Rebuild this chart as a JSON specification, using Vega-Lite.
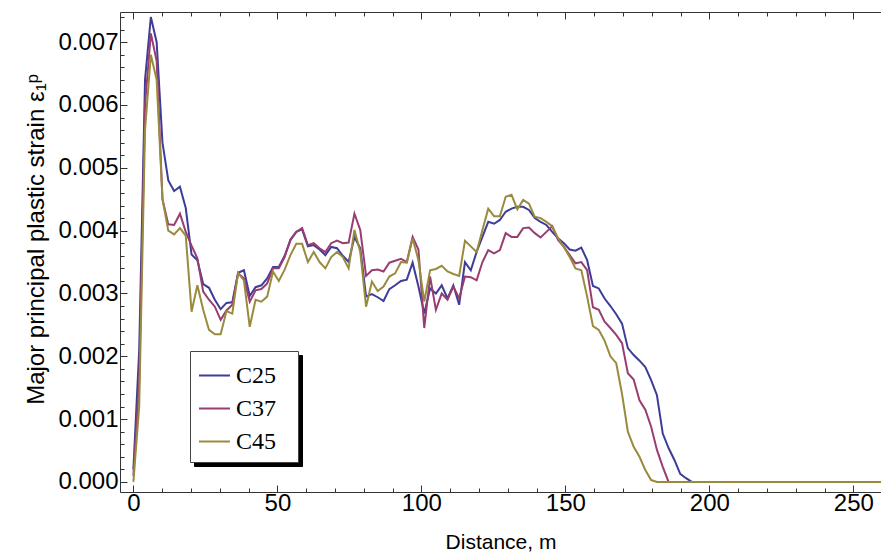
{
  "$schema": "https://vega.github.io/schema/vega-lite/v6.json",
  "width": 761,
  "height": 480,
  "autosize": {"type": "none"},
  "padding": {"left": 120, "top": 12, "right": 0, "bottom": 67},
  "background": "white",
  "config": {"view": {"stroke": null}, "font": "Liberation Sans"},
  "data": {"values": [
    {"x":0,"C25":0.0002,"C37":0.0001,"C45":0},
    {"x":2.02,"C25":0.0021,"C37":0.0016,"C45":0.0012},
    {"x":4.04,"C25":0.0064,"C37":0.006,"C45":0.0056},
    {"x":6.06,"C25":0.0074,"C37":0.00714,"C45":0.0068},
    {"x":8.08,"C25":0.007,"C37":0.0067,"C45":0.0064},
    {"x":10.1,"C25":0.0054,"C37":0.0045,"C45":0.0045},
    {"x":12.12,"C25":0.0048,"C37":0.0041,"C45":0.004},
    {"x":14.14,"C25":0.00463,"C37":0.00409,"C45":0.00394},
    {"x":16.16,"C25":0.0047,"C37":0.00427,"C45":0.00404},
    {"x":18.18,"C25":0.00436,"C37":0.00398,"C45":0.00392},
    {"x":20.2,"C25":0.00362,"C37":0.00376,"C45":0.00271},
    {"x":22.22,"C25":0.00353,"C37":0.00356,"C45":0.00313},
    {"x":24.24,"C25":0.00315,"C37":0.00303,"C45":0.00274},
    {"x":26.26,"C25":0.00309,"C37":0.0029,"C45":0.00242},
    {"x":28.28,"C25":0.0029,"C37":0.00279,"C45":0.00235},
    {"x":30.3,"C25":0.00275,"C37":0.00258,"C45":0.00235},
    {"x":32.32,"C25":0.00285,"C37":0.00273,"C45":0.00272},
    {"x":34.34,"C25":0.00286,"C37":0.00282,"C45":0.00268},
    {"x":36.36,"C25":0.00333,"C37":0.00332,"C45":0.00333},
    {"x":38.38,"C25":0.00337,"C37":0.00324,"C45":0.00321},
    {"x":40.4,"C25":0.00296,"C37":0.00287,"C45":0.00247},
    {"x":42.42,"C25":0.0031,"C37":0.00305,"C45":0.0029},
    {"x":44.44,"C25":0.00313,"C37":0.00307,"C45":0.00287},
    {"x":46.46,"C25":0.00324,"C37":0.00316,"C45":0.00295},
    {"x":48.48,"C25":0.00342,"C37":0.0034,"C45":0.00335},
    {"x":50.5,"C25":0.00342,"C37":0.0034,"C45":0.0032},
    {"x":52.52,"C25":0.0036,"C37":0.00358,"C45":0.00338},
    {"x":54.54,"C25":0.00385,"C37":0.00386,"C45":0.00361},
    {"x":56.56,"C25":0.00398,"C37":0.00398,"C45":0.00379},
    {"x":58.58,"C25":0.00402,"C37":0.00404,"C45":0.00379},
    {"x":60.6,"C25":0.00375,"C37":0.00377,"C45":0.0035},
    {"x":62.62,"C25":0.00377,"C37":0.0038,"C45":0.00366},
    {"x":64.64,"C25":0.0037,"C37":0.00372,"C45":0.0035},
    {"x":66.66,"C25":0.00361,"C37":0.00366,"C45":0.0034},
    {"x":68.68,"C25":0.00374,"C37":0.0038,"C45":0.00358},
    {"x":70.7,"C25":0.00372,"C37":0.00384,"C45":0.00366},
    {"x":72.72,"C25":0.0036,"C37":0.0038,"C45":0.00358},
    {"x":74.74,"C25":0.0035,"C37":0.00381,"C45":0.0034},
    {"x":76.76,"C25":0.0039,"C37":0.00427,"C45":0.00401},
    {"x":78.78,"C25":0.00372,"C37":0.00401,"C45":0.00366},
    {"x":80.8,"C25":0.00295,"C37":0.00328,"C45":0.00279},
    {"x":82.82,"C25":0.00299,"C37":0.00337,"C45":0.00319},
    {"x":84.84,"C25":0.00294,"C37":0.00338,"C45":0.00304},
    {"x":86.86,"C25":0.00288,"C37":0.00335,"C45":0.00311},
    {"x":88.88,"C25":0.00307,"C37":0.00349,"C45":0.00327},
    {"x":90.9,"C25":0.00313,"C37":0.00352,"C45":0.00332},
    {"x":92.92,"C25":0.0032,"C37":0.00355,"C45":0.0035},
    {"x":94.94,"C25":0.00322,"C37":0.0035,"C45":0.00349},
    {"x":96.96,"C25":0.00349,"C37":0.0039,"C45":0.00388},
    {"x":98.98,"C25":0.00311,"C37":0.0037,"C45":0.00353},
    {"x":101,"C25":0.00268,"C37":0.00245,"C45":0.00287},
    {"x":103.02,"C25":0.00308,"C37":0.00327,"C45":0.00337},
    {"x":105.04,"C25":0.003,"C37":0.00274,"C45":0.00339},
    {"x":107.06,"C25":0.00313,"C37":0.003,"C45":0.00344},
    {"x":109.08,"C25":0.00292,"C37":0.0029,"C45":0.00335},
    {"x":111.1,"C25":0.00313,"C37":0.00311,"C45":0.00331},
    {"x":113.12,"C25":0.00282,"C37":0.00292,"C45":0.00328},
    {"x":115.14,"C25":0.0035,"C37":0.00327,"C45":0.00384},
    {"x":117.16,"C25":0.00337,"C37":0.00326,"C45":0.00375},
    {"x":119.18,"C25":0.00366,"C37":0.00321,"C45":0.00366},
    {"x":121.2,"C25":0.0039,"C37":0.0035,"C45":0.00401},
    {"x":123.22,"C25":0.00414,"C37":0.00369,"C45":0.00435},
    {"x":125.24,"C25":0.00411,"C37":0.00364,"C45":0.00423},
    {"x":127.26,"C25":0.00417,"C37":0.00369,"C45":0.00423},
    {"x":129.28,"C25":0.0043,"C37":0.00396,"C45":0.00454},
    {"x":131.3,"C25":0.00435,"C37":0.0039,"C45":0.00457},
    {"x":133.32,"C25":0.00438,"C37":0.0039,"C45":0.00434},
    {"x":135.34,"C25":0.00438,"C37":0.00404,"C45":0.00449},
    {"x":137.36,"C25":0.00433,"C37":0.00405,"C45":0.00443},
    {"x":139.38,"C25":0.0042,"C37":0.00396,"C45":0.00422},
    {"x":141.4,"C25":0.00414,"C37":0.00389,"C45":0.0042},
    {"x":143.42,"C25":0.00409,"C37":0.00398,"C45":0.00414},
    {"x":145.44,"C25":0.00398,"C37":0.00407,"C45":0.00407},
    {"x":147.46,"C25":0.00388,"C37":0.00385,"C45":0.00388},
    {"x":149.48,"C25":0.0038,"C37":0.00374,"C45":0.00374},
    {"x":151.5,"C25":0.0037,"C37":0.00361,"C45":0.00358},
    {"x":153.52,"C25":0.00368,"C37":0.00348,"C45":0.0034},
    {"x":155.54,"C25":0.00373,"C37":0.0035,"C45":0.00337},
    {"x":157.56,"C25":0.00353,"C37":0.00337,"C45":0.00295},
    {"x":159.58,"C25":0.00312,"C37":0.00278,"C45":0.00248},
    {"x":161.6,"C25":0.00308,"C37":0.00274,"C45":0.00242},
    {"x":163.62,"C25":0.00292,"C37":0.00255,"C45":0.00225},
    {"x":165.64,"C25":0.0028,"C37":0.00245,"C45":0.002},
    {"x":167.66,"C25":0.00267,"C37":0.00234,"C45":0.00189},
    {"x":169.68,"C25":0.00252,"C37":0.00221,"C45":0.0014},
    {"x":171.7,"C25":0.00213,"C37":0.00173,"C45":0.0008},
    {"x":173.72,"C25":0.00202,"C37":0.00163,"C45":0.00056},
    {"x":175.74,"C25":0.00193,"C37":0.0013,"C45":0.0004},
    {"x":177.76,"C25":0.00183,"C37":0.00115,"C45":0.00019},
    {"x":179.78,"C25":0.00162,"C37":0.00088,"C45":0.00003},
    {"x":181.8,"C25":0.00138,"C37":0.00051,"C45":0},
    {"x":183.82,"C25":0.00077,"C37":0.00024,"C45":0},
    {"x":185.84,"C25":0.00054,"C37":0,"C45":0},
    {"x":187.86,"C25":0.00035,"C37":0,"C45":0},
    {"x":189.88,"C25":0.00013,"C37":0,"C45":0},
    {"x":191.9,"C25":0.00006,"C37":0,"C45":0},
    {"x":193.92,"C25":0,"C37":0,"C45":0},
    {"x":195.94,"C25":0,"C37":0,"C45":0},
    {"x":197.96,"C25":0,"C37":0,"C45":0},
    {"x":199.98,"C25":0,"C37":0,"C45":0},
    {"x":202,"C25":0,"C37":0,"C45":0},
    {"x":204.02,"C25":0,"C37":0,"C45":0},
    {"x":206.04,"C25":0,"C37":0,"C45":0},
    {"x":208.06,"C25":0,"C37":0,"C45":0},
    {"x":210.08,"C25":0,"C37":0,"C45":0},
    {"x":212.1,"C25":0,"C37":0,"C45":0},
    {"x":214.12,"C25":0,"C37":0,"C45":0},
    {"x":216.14,"C25":0,"C37":0,"C45":0},
    {"x":218.16,"C25":0,"C37":0,"C45":0},
    {"x":220.18,"C25":0,"C37":0,"C45":0},
    {"x":222.2,"C25":0,"C37":0,"C45":0},
    {"x":224.22,"C25":0,"C37":0,"C45":0},
    {"x":226.24,"C25":0,"C37":0,"C45":0},
    {"x":228.26,"C25":0,"C37":0,"C45":0},
    {"x":230.28,"C25":0,"C37":0,"C45":0},
    {"x":232.3,"C25":0,"C37":0,"C45":0},
    {"x":234.32,"C25":0,"C37":0,"C45":0},
    {"x":236.34,"C25":0,"C37":0,"C45":0},
    {"x":238.36,"C25":0,"C37":0,"C45":0},
    {"x":240.38,"C25":0,"C37":0,"C45":0},
    {"x":242.4,"C25":0,"C37":0,"C45":0},
    {"x":244.42,"C25":0,"C37":0,"C45":0},
    {"x":246.44,"C25":0,"C37":0,"C45":0},
    {"x":248.46,"C25":0,"C37":0,"C45":0},
    {"x":250.48,"C25":0,"C37":0,"C45":0},
    {"x":252.5,"C25":0,"C37":0,"C45":0},
    {"x":254.52,"C25":0,"C37":0,"C45":0},
    {"x":256.54,"C25":0,"C37":0,"C45":0},
    {"x":258.56,"C25":0,"C37":0,"C45":0},
    {"x":260.58,"C25":0,"C37":0,"C45":0}
  ]},
  "layer": [
    {
      "transform": [{"fold": ["C25", "C37", "C45"], "as": ["series", "strain"]}],
      "mark": {"type": "line", "strokeWidth": 2, "clip": true},
      "encoding": {
        "x": {
          "field": "x", "type": "quantitative",
          "scale": {"domain": [-4.65, 259.6], "nice": false, "zero": false},
          "axis": {
            "orient": "bottom",
            "values": [0,10,20,30,40,50,60,70,80,90,100,110,120,130,140,150,160,170,180,190,200,210,220,230,240,250],
            "labelExpr": "datum.value % 50 === 0 ? datum.label : ''",
            "format": "d",
            "grid": false,
            "tickSize": {"condition": {"test": "datum.value % 50 === 0", "value": -7}, "value": -4},
            "tickColor": "#333",
            "domainColor": "#333",
            "labelFont": "Liberation Sans",
            "labelFontSize": 24,
            "labelColor": "black",
            "labelPadding": 6,
            "title": "Distance, m",
            "titleFont": "Liberation Sans",
            "titleFontSize": 21,
            "titleFontWeight": "normal",
            "titleColor": "black",
            "titlePadding": 16
          }
        },
        "y": {
          "field": "strain", "type": "quantitative",
          "scale": {"domain": [-0.00016, 0.00748], "nice": false, "zero": false},
          "axis": {
            "orient": "left",
            "values": [0,0.0002,0.0004,0.0006,0.0008,0.001,0.0012,0.0014,0.0016,0.0018,0.002,0.0022,0.0024,0.0026,0.0028,0.003,0.0032,0.0034,0.0036,0.0038,0.004,0.0042,0.0044,0.0046,0.0048,0.005,0.0052,0.0054,0.0056,0.0058,0.006,0.0062,0.0064,0.0066,0.0068,0.007,0.0072,0.0074],
            "format": ".3f",
            "labelExpr": "abs(datum.value*1000 - round(datum.value*1000)) < 0.01 ? datum.label : ''",
            "grid": false,
            "tickSize": {"condition": {"test": "abs(datum.value*1000 - round(datum.value*1000)) < 0.01", "value": -7}, "value": -4},
            "tickColor": "#333",
            "domainColor": "#333",
            "labelFont": "Liberation Sans",
            "labelFontSize": 24,
            "labelColor": "black",
            "labelPadding": 9,
            "title": "Major principal plastic strain ε₁ᵖ",
            "titleFont": "Liberation Sans",
            "titleFontSize": 24,
            "titleFontWeight": "normal",
            "titleColor": "black",
            "titlePadding": 9,
            "titleY": 227
          }
        },
        "color": {
          "field": "series", "type": "nominal",
          "scale": {"domain": ["C25", "C37", "C45"], "range": ["#3D3D99", "#993D71", "#998B3D"]},
          "legend": {
            "title": " ",
            "titleOrient": "right",
            "titlePadding": 14,
            "titleFontSize": 10,
            "orient": "none",
            "legendX": 70,
            "legendY": 339,
            "fillColor": "white",
            "strokeColor": "#444",
            "padding": 8,
            "symbolType": "stroke",
            "symbolSize": 961,
            "symbolStrokeWidth": 2,
            "labelFont": "Liberation Serif",
            "labelFontSize": 24,
            "labelColor": "black",
            "labelOffset": 5,
            "rowPadding": 4,
            "zindex": 2
          }
        }
      }
    },
    {
      "data": {"values": [{"s": "C25"}, {"s": "C37"}, {"s": "C45"}]},
      "mark": {"type": "point", "opacity": 0, "size": 0},
      "encoding": {
        "strokeDash": {
          "field": "s", "type": "nominal",
          "scale": {"range": [[1, 0], [1, 0], [1, 0]]},
          "legend": {
            "title": " ",
            "titleOrient": "right",
            "titlePadding": 14,
            "titleFontSize": 10,
            "orient": "none",
            "legendX": 74,
            "legendY": 343,
            "fillColor": "black",
            "strokeColor": "black",
            "padding": 8,
            "symbolType": "stroke",
            "symbolSize": 961,
            "symbolStrokeWidth": 2,
            "symbolOpacity": 0,
            "labelFont": "Liberation Serif",
            "labelFontSize": 24,
            "labelOpacity": 0,
            "labelOffset": 45,
            "rowPadding": 4,
            "labelExpr": "''",
            "zindex": 1
          }
        }
      }
    },
    {
      "transform": [{"fold": ["C25", "C37", "C45"], "as": ["series", "strain"]}],
      "mark": {"type": "line", "opacity": 0},
      "encoding": {
        "x": {
          "field": "x", "type": "quantitative",
          "axis": {
            "orient": "top",
            "values": [0,10,20,30,40,50,60,70,80,90,100,110,120,130,140,150,160,170,180,190,200,210,220,230,240,250],
            "labels": false,
            "grid": false,
            "title": null,
            "tickSize": {"condition": {"test": "datum.value % 50 === 0", "value": -7}, "value": -4},
            "tickColor": "#333",
            "domainColor": "#333"
          }
        },
        "y": {"field": "strain", "type": "quantitative", "axis": null},
        "detail": {"field": "series"}
      }
    }
  ],
  "resolve": {"axis": {"x": "independent", "y": "independent"}}
}
